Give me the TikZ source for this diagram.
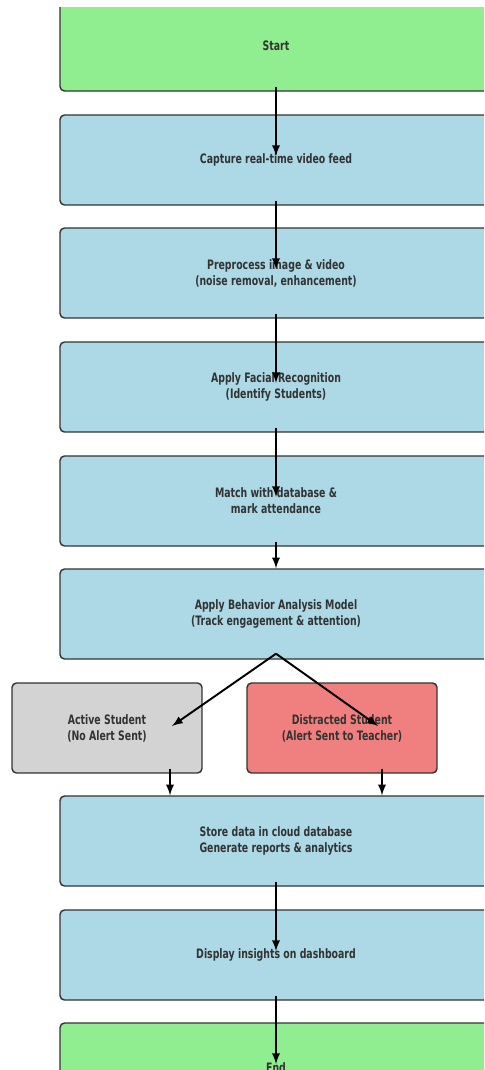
\documentclass[tikz,border=0pt]{standalone}
\usepackage{fontspec}
\newfontfamily\flowfont{DejaVu Sans}[FakeStretch=0.72]
\usetikzlibrary{arrows, positioning, calc}
\definecolor{startgreen}{HTML}{90EE90}
\definecolor{stepblue}{HTML}{ADD8E6}
\definecolor{activegray}{HTML}{D3D3D3}
\definecolor{alertred}{HTML}{F08080}
\definecolor{boxtext}{HTML}{333333}

\begin{document}
\begin{tikzpicture}[x=0.02cm, y=-0.02cm]
		\tikzstyle{base_box} = [rectangle, rounded corners=2.5pt, draw=black!80, line width=0.8pt, inner sep=0, align=center, text=boxtext, font=\flowfont\bfseries\fontsize{7.4}{9.1}\selectfont]
		\tikzstyle{step_box} = [base_box, fill=stepblue, minimum width=8.64cm, minimum height=1.8cm]
		\tikzstyle{term_box} = [base_box, fill=startgreen, minimum width=8.64cm, minimum height=1.8cm]
		\tikzstyle{side_box} = [base_box, minimum width=3.8cm, minimum height=1.8cm]

		\tikzstyle{flow_line} = [-latex, line width=1.1pt]

		\useasboundingbox (0,0) rectangle (484,1070);
		\clip (0,8) rectangle (484,1069);

		% Main steps
		\node[term_box](start) at (276,46) {Start};
		\node[step_box](capture) at (276,160) {Capture real-time video feed};
		\node[step_box](preprocess) at (276,273) {Preprocess image \& video\\(noise removal, enhancement)};
		\node[step_box](facial) at (276,387) {Apply Facial Recognition\\(Identify Students)};
		\node[step_box](match) at (276,501) {Match with database \&\\mark attendance};
		\node[step_box](behavior) at (276,614) {Apply Behavior Analysis Model\\(Track engagement \& attention)};

		% Outcomes
		\node[side_box, fill=activegray](active) at (107,728) {Active Student\\(No Alert Sent)};
		\node[side_box, fill=alertred](distracted) at (342,728) {Distracted Student\\(Alert Sent to Teacher)};

		\node[step_box](store) at (276,841) {Store data in cloud database\\Generate reports \& analytics};
		\node[step_box](display) at (276,955) {Display insights on dashboard};
		\node[term_box](finish) at (276,1068) {End};

		% Arrows down the stack
		\foreach \a/\b in {start/capture, capture/preprocess, preprocess/facial, facial/match, store/display, display/finish} {
				\draw[flow_line] ($(\a.south)+(0,-5)$) -- ($(\b.center)+(0,-4)$);
			};
		\draw[flow_line] ($(match.south)+(0,-5)$) -- (behavior.north);

		% Branches
		\draw[flow_line] ($(behavior.south)+(0,-6)$) -- ($(active.center)+(65,-2)$);
		\draw[flow_line] ($(behavior.south)+(0,-6)$) -- ($(distracted.center)+(36,-2)$);
		\draw[flow_line] ($(active.south)+(63,-5)$) -- ($(store.north)+(-106,0)$);
		\draw[flow_line] ($(distracted.south)+(40,-5)$) -- ($(store.north)+(106,0)$);

	\end{tikzpicture}
\end{document}
